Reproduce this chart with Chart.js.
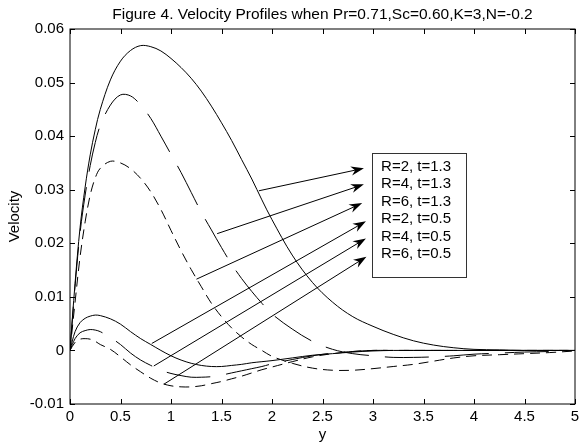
<!DOCTYPE html>
<html>
<head>
<meta charset="utf-8">
<title>Velocity Profiles</title>
<script src="https://cdn.jsdelivr.net/npm/chart.js@4.4.1/dist/chart.umd.min.js"></script>
<style>
  html, body { margin: 0; padding: 0; background: #fff; }
  #wrap { width: 588px; height: 444px; }
</style>
</head>
<body>
<div id="wrap"><canvas id="velocityChart" width="588" height="444"></canvas></div>
<script>
// ---- data ----
const yGrid = [0, 0.05, 0.1, 0.15, 0.2, 0.25, 0.3, 0.4, 0.5, 0.6, 0.7, 0.8, 0.9, 1.0,
  1.1, 1.2, 1.3, 1.4, 1.5, 1.6, 1.7, 1.8, 1.9, 2.0, 2.2, 2.4, 2.6, 2.8, 3.0,
  3.2, 3.4, 3.6, 3.8, 4.0, 4.25, 4.5, 4.75, 5.0];

// t = 1.3
const velR2t13 = [0, 0.0125, 0.0230, 0.0305, 0.0365, 0.0412, 0.0450, 0.0505, 0.0540, 0.0560, 0.0569, 0.0567, 0.0559, 0.0545,
  0.0528, 0.0508, 0.0484, 0.0456, 0.0425, 0.0392, 0.0356, 0.0320, 0.0281, 0.0244, 0.0178, 0.0127, 0.0090, 0.0063, 0.0045,
  0.0030, 0.0018, 0.0010, 0.0005, 0.0002, 0.0001, 0, 0, 0];
const velR4t13 = [0, 0.0120, 0.0220, 0.0290, 0.0345, 0.0388, 0.0420, 0.0458, 0.0477, 0.0475, 0.0458, 0.0433, 0.0400, 0.0366,
  0.0332, 0.0295, 0.0258, 0.0225, 0.0192, 0.0161, 0.0134, 0.0110, 0.0088, 0.0068, 0.0040, 0.0017, 0.0002, -0.0006, -0.0010,
  -0.0013, -0.0013, -0.0012, -0.0010, -0.0007, -0.0005, -0.0003, -0.0002, 0];
const velR6t13 = [0, 0.0090, 0.0175, 0.0240, 0.0290, 0.0322, 0.0340, 0.0353, 0.0350, 0.0339, 0.0321, 0.0296, 0.0263, 0.0224,
  0.0186, 0.0151, 0.0119, 0.0088, 0.0063, 0.0042, 0.0025, 0.0011, 0.0000, -0.0011, -0.0024, -0.0033, -0.0037, -0.0037, -0.0034,
  -0.0030, -0.0026, -0.0020, -0.0014, -0.0010, -0.0008, -0.0006, -0.0004, -0.0001];
// t = 0.5
const velR2t05 = [0, 0.0035, 0.0052, 0.0060, 0.0064, 0.0066, 0.0065, 0.0059, 0.0049, 0.0035, 0.0022, 0.0011, 0.0000, -0.0010,
  -0.0018, -0.0024, -0.0028, -0.0030, -0.0030, -0.0028, -0.0026, -0.0023, -0.0021, -0.0019, -0.0014, -0.0009, -0.0006, -0.0003, -0.0001,
  0, 0, 0, 0, 0, 0, 0, 0, 0];
const velR4t05 = [0, 0.0022, 0.0033, 0.0037, 0.0039, 0.0038, 0.0035, 0.0024, 0.0011, -0.0005, -0.0018, -0.0028, -0.0037, -0.0043,
  -0.0047, -0.0050, -0.0050, -0.0049, -0.0046, -0.0042, -0.0038, -0.0034, -0.0030, -0.0025, -0.0017, -0.0010, -0.0005, -0.0002, 0,
  0, 0, 0, 0, 0, 0, 0, 0, 0];
const velR6t05 = [0, 0.0015, 0.0021, 0.0022, 0.0021, 0.0017, 0.0011, 0.0002, -0.0012, -0.0027, -0.0040, -0.0052, -0.0061, -0.0066,
  -0.0068, -0.0068, -0.0066, -0.0062, -0.0058, -0.0053, -0.0048, -0.0042, -0.0036, -0.0031, -0.0021, -0.0012, -0.0006, -0.0002, 0,
  0, 0, 0, 0, 0, 0, 0, 0, 0];

const seriesLabels = ['R=2, t=1.3', 'R=4, t=1.3', 'R=6, t=1.3', 'R=2, t=0.5', 'R=4, t=0.5', 'R=6, t=0.5'];
const seriesValues = [velR2t13, velR4t13, velR6t13, velR2t05, velR4t05, velR6t05];

const xTicks = [0, 0.5, 1, 1.5, 2, 2.5, 3, 3.5, 4, 4.5, 5];
const yTicks = [-0.01, 0, 0.01, 0.02, 0.03, 0.04, 0.05, 0.06];

// arrow tails (on the curves) and heads (at the label box), in data units
const arrowTails = [[1.87, 0.0298], [1.457, 0.0218], [1.252, 0.0133], [0.81, 0.0013], [0.83, -0.0029], [0.93, -0.0063]];
const arrowHeads = [[2.91, 0.0340], [2.91, 0.0310], [2.893, 0.0275], [2.93, 0.0241], [2.93, 0.0209], [2.935, 0.0175]];

const titleText = 'Figure 4. Velocity Profiles when Pr=0.71,Sc=0.60,K=3,N=-0.2';

// ---- styling ----
const FONT = "'Liberation Sans', Arial, sans-serif";
const dashes = [[], [44, 16], [10, 6], [], [44, 16], [10, 6]];
const labelBox = { x0: 2.995, x1: 3.925, yTop: 0.0368, yBottom: 0.0137, textX: 3.08, firstLine: 0.03428, lineGap: 17.5 };

Chart.defaults.font.family = FONT;
Chart.defaults.color = '#000';

const datasets = seriesValues.map(function(vals, i) {
    return {
        label: seriesLabels[i],
        data: yGrid.map(function(x, j) { return { x: x, y: vals[j] }; }),
        borderColor: '#000',
        borderWidth: 1,
        borderDash: dashes[i],
        pointRadius: 0,
        tension: 0.35,
        fill: false
    };
});

// frame, inward ticks, title, label box and arrows (MATLAB look)
const decorations = {
    id: 'decorations',
    afterDatasetsDraw(chart) {
        const ctx = chart.ctx;
        const a = chart.chartArea;
        const xs = chart.scales.x, ys = chart.scales.y;
        ctx.save();
        ctx.strokeStyle = '#000';
        ctx.lineWidth = 1;
        ctx.setLineDash([]);
        ctx.strokeRect(a.left, a.top, a.right - a.left, a.bottom - a.top);

        const tl = 5;
        ctx.beginPath();
        xTicks.forEach(function(v) {
            const px = Math.round(xs.getPixelForValue(v)) + 0.5;
            ctx.moveTo(px, a.bottom); ctx.lineTo(px, a.bottom - tl);
            ctx.moveTo(px, a.top); ctx.lineTo(px, a.top + tl);
        });
        yTicks.forEach(function(v) {
            const py = Math.round(ys.getPixelForValue(v)) + 0.5;
            ctx.moveTo(a.left, py); ctx.lineTo(a.left + tl, py);
            ctx.moveTo(a.right, py); ctx.lineTo(a.right - tl, py);
        });
        ctx.stroke();

        // title centred over the axes
        ctx.fillStyle = '#000';
        ctx.font = '15.5px ' + FONT;
        ctx.textAlign = 'center';
        ctx.textBaseline = 'middle';
        ctx.fillText(titleText, (a.left + a.right) / 2, 15);

        // label box
        const bx0 = xs.getPixelForValue(labelBox.x0), bx1 = xs.getPixelForValue(labelBox.x1);
        const by0 = ys.getPixelForValue(labelBox.yTop), by1 = ys.getPixelForValue(labelBox.yBottom);
        ctx.fillStyle = '#fff';
        ctx.fillRect(bx0, by0, bx1 - bx0, by1 - by0);
        ctx.strokeStyle = '#333';
        ctx.strokeRect(Math.round(bx0) + 0.5, Math.round(by0) + 0.5, Math.round(bx1 - bx0), Math.round(by1 - by0));
        ctx.fillStyle = '#000';
        ctx.font = '15px ' + FONT;
        ctx.textAlign = 'left';
        const tx = xs.getPixelForValue(labelBox.textX);
        const ty = ys.getPixelForValue(labelBox.firstLine);
        seriesLabels.forEach(function(s, i) {
            ctx.fillText(s, tx, ty + i * labelBox.lineGap);
        });

        // arrows
        ctx.strokeStyle = '#000';
        arrowTails.forEach(function(t, i) {
            const x0 = xs.getPixelForValue(t[0]), y0 = ys.getPixelForValue(t[1]);
            const x1 = xs.getPixelForValue(arrowHeads[i][0]), y1 = ys.getPixelForValue(arrowHeads[i][1]);
            const ang = Math.atan2(y1 - y0, x1 - x0);
            const len = 13, half = 4.5, notch = 4;
            ctx.beginPath();
            ctx.moveTo(x0, y0);
            ctx.lineTo(x1 - Math.cos(ang) * notch, y1 - Math.sin(ang) * notch);
            ctx.stroke();
            ctx.save();
            ctx.translate(x1, y1);
            ctx.rotate(ang);
            ctx.beginPath();
            ctx.moveTo(0, 0);
            ctx.lineTo(-len, -half);
            ctx.lineTo(-len + notch, 0);
            ctx.lineTo(-len, half);
            ctx.closePath();
            ctx.fill();
            ctx.restore();
        });
        ctx.restore();
    }
};

const chart = new Chart(document.getElementById('velocityChart').getContext('2d'), {
    type: 'line',
    data: { datasets: datasets },
    options: {
        responsive: false,
        animation: false,
        layout: { padding: { left: 0, right: 13, top: 29, bottom: 0 } },
        plugins: {
            legend: { display: false },
            tooltip: { enabled: false },
            title: { display: false }
        },
        scales: {
            x: {
                type: 'linear',
                min: 0,
                max: 5,
                afterFit: function(scale) { scale.height = 40; },
                afterBuildTicks: function(scale) { scale.ticks = xTicks.map(function(v) { return { value: v }; }); },
                ticks: {
                    font: { size: 15 },
                    padding: 4,
                    maxRotation: 0,
                    callback: function(v) { return String(Number(v.toFixed(2))); }
                },
                grid: { display: false, drawTicks: false },
                border: { display: false },
                title: { display: true, text: 'y', font: { size: 15 }, padding: { top: 0, bottom: 0 } }
            },
            y: {
                type: 'linear',
                min: -0.01,
                max: 0.06,
                afterFit: function(scale) { scale.width = 70; },
                afterBuildTicks: function(scale) { scale.ticks = yTicks.map(function(v) { return { value: v }; }); },
                ticks: {
                    font: { size: 15 },
                    padding: 6,
                    callback: function(v) { return String(Number(v.toFixed(2))); }
                },
                grid: { display: false, drawTicks: false },
                border: { display: false },
                title: { display: true, text: 'Velocity', font: { size: 15 }, padding: { top: 6, bottom: 0 } }
            }
        }
    },
    plugins: [decorations]
});
</script>
</body>
</html>
